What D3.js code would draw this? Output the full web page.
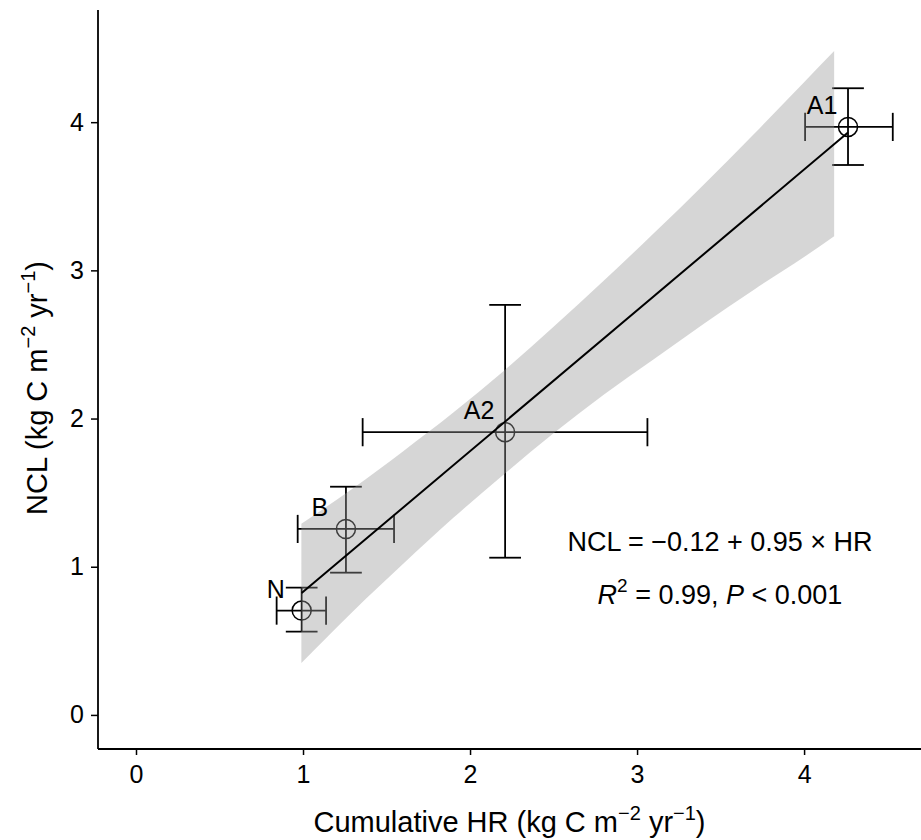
<!DOCTYPE html>
<html>
<head>
<meta charset="utf-8">
<script src="https://cdn.jsdelivr.net/npm/d3@7/dist/d3.min.js"></script>
<style>
  html, body { margin: 0; padding: 0; background: #fff; }
  svg { display: block; font-family: "Liberation Sans", Arial, Helvetica, sans-serif; }
</style>
</head>
<body>
<svg id="chart" width="921" height="840"></svg>
<script>
// ---- data ----
const groups  = ["N", "B", "A2", "A1"];
const hr      = [0.992, 1.257, 2.210, 4.263];
const hrLow   = [0.842, 0.968, 1.357, 4.006];
const hrHigh  = [1.138, 1.545, 3.062, 4.531];
const ncl     = [0.704, 1.255, 1.908, 3.968];
const nclLow  = [0.562, 0.960, 1.061, 3.711];
const nclHigh = [0.859, 1.540, 2.767, 4.229];

const fitIntercept = -0.12;
const fitSlope = 0.95;

const ribbonX  = [0.99, 1.3, 1.6, 1.9, 2.2, 2.5, 2.8, 3.1, 3.4, 3.7, 4.0, 4.18];
const ribbonLo = [0.35, 0.70, 1.02, 1.33, 1.62, 1.90, 2.16, 2.40, 2.64, 2.87, 3.09, 3.23];
const ribbonHi = [1.29, 1.53, 1.78, 2.04, 2.32, 2.62, 2.93, 3.25, 3.58, 3.92, 4.27, 4.48];

const xTicks = [0, 1, 2, 3, 4];
const yTicks = [0, 1, 2, 3, 4];

// ---- layout ----
const svg = d3.select("#chart");
const pLeft = 98, pRight = 921, pTop = 10, pBottom = 749;

const x = d3.scaleLinear().domain([-0.2275, 4.70]).range([pLeft, pRight]);
const y = d3.scaleLinear().domain([-0.23, 4.757]).range([pBottom, pTop]);

const capHalf = 0.095;

const pts = groups.map((g, i) => ({
  g, x: hr[i], xl: hrLow[i], xh: hrHigh[i], y: ncl[i], yl: nclLow[i], yh: nclHigh[i]
}));

// error bars
const eb = svg.append("g").attr("stroke", "#000").attr("stroke-width", 1.8).attr("fill", "none");
pts.forEach(p => {
  eb.append("line").attr("x1", x(p.x)).attr("x2", x(p.x)).attr("y1", y(p.yl)).attr("y2", y(p.yh));
  eb.append("line").attr("x1", x(p.x - capHalf)).attr("x2", x(p.x + capHalf)).attr("y1", y(p.yl)).attr("y2", y(p.yl));
  eb.append("line").attr("x1", x(p.x - capHalf)).attr("x2", x(p.x + capHalf)).attr("y1", y(p.yh)).attr("y2", y(p.yh));
  eb.append("line").attr("x1", x(p.xl)).attr("x2", x(p.xh)).attr("y1", y(p.y)).attr("y2", y(p.y));
  eb.append("line").attr("x1", x(p.xl)).attr("x2", x(p.xl)).attr("y1", y(p.y - capHalf)).attr("y2", y(p.y + capHalf));
  eb.append("line").attr("x1", x(p.xh)).attr("x2", x(p.xh)).attr("y1", y(p.y - capHalf)).attr("y2", y(p.y + capHalf));
});

// points
svg.append("g").selectAll("circle").data(pts).join("circle")
  .attr("cx", d => x(d.x)).attr("cy", d => y(d.y)).attr("r", 9.5)
  .attr("fill", "none").attr("stroke", "#000").attr("stroke-width", 1.5);

// ribbon
const rib = ribbonX.map((v, i) => ({ x: v, lo: ribbonLo[i], hi: ribbonHi[i] }));
svg.append("path").datum(rib)
  .attr("d", d3.area().x(d => x(d.x)).y0(d => y(d.lo)).y1(d => y(d.hi)).curve(d3.curveMonotoneX))
  .attr("fill", "#999999").attr("fill-opacity", 0.4);

// fit line
const fx0 = d3.min(hr), fx1 = d3.max(hr);
svg.append("line")
  .attr("x1", x(fx0)).attr("y1", y(fitIntercept + fitSlope * fx0))
  .attr("x2", x(fx1)).attr("y2", y(fitIntercept + fitSlope * fx1))
  .attr("stroke", "#000").attr("stroke-width", 2);

// point labels
svg.append("g").selectAll("text").data(pts).join("text")
  .attr("x", d => x(d.x) - 26).attr("y", d => y(d.y) - 13)
  .attr("text-anchor", "middle").attr("font-size", 25).attr("fill", "#000")
  .text(d => d.g);

// axes
const xAxis = svg.append("g").attr("transform", `translate(0,${pBottom})`)
  .call(d3.axisBottom(x).tickValues(xTicks).tickSize(6).tickSizeOuter(0).tickPadding(10).tickFormat(d3.format("d")));
const yAxis = svg.append("g").attr("transform", `translate(${pLeft},0)`)
  .call(d3.axisLeft(y).tickValues(yTicks).tickSize(7).tickSizeOuter(0).tickPadding(7).tickFormat(d3.format("d")));
[xAxis, yAxis].forEach(a => {
  a.select(".domain").attr("stroke", "#000").attr("stroke-width", 1.8);
  a.selectAll(".tick line").attr("stroke", "#000").attr("stroke-width", 1.5);
  a.selectAll(".tick text").attr("font-size", 25).attr("fill", "#000")
    .attr("font-family", "'Liberation Sans', Arial, Helvetica, sans-serif");
});
yAxis.select(".domain").attr("d", `M0,${pTop}V${pBottom}`);
xAxis.select(".domain").attr("d", `M${pLeft},0H${pRight}`);

// axis titles
function unitTitle(sel, prefix) {
  sel.append("tspan").text(prefix + " (kg C m");
  sel.append("tspan").attr("font-size", 20).attr("dy", -12).text("\u22122");
  sel.append("tspan").attr("dy", 12).text(" yr");
  sel.append("tspan").attr("font-size", 20).attr("dy", -12).text("\u22121");
  sel.append("tspan").attr("dy", 12).text(")");
}
const xt = svg.append("text").attr("x", (pLeft + pRight) / 2).attr("y", 832)
  .attr("text-anchor", "middle").attr("font-size", 29).attr("fill", "#000");
unitTitle(xt, "Cumulative HR");

const yt = svg.append("text").attr("transform", `translate(47,388) rotate(-90)`)
  .attr("text-anchor", "middle").attr("font-size", 29).attr("fill", "#000");
unitTitle(yt, "NCL");

// annotation
const annX = 720;
svg.append("text").attr("x", annX).attr("y", 551).attr("text-anchor", "middle")
  .attr("font-size", 27).attr("fill", "#000")
  .text("NCL = \u22120.12 + 0.95 \u00d7 HR");
const a2 = svg.append("text").attr("x", annX).attr("y", 604).attr("text-anchor", "middle")
  .attr("font-size", 27).attr("fill", "#000");
a2.append("tspan").attr("font-style", "italic").text("R");
a2.append("tspan").attr("font-size", 19).attr("dy", -12).text("2");
a2.append("tspan").attr("dy", 12).text(" = 0.99, ");
a2.append("tspan").attr("font-style", "italic").text("P");
a2.append("tspan").text(" < 0.001");
</script>
</body>
</html>
